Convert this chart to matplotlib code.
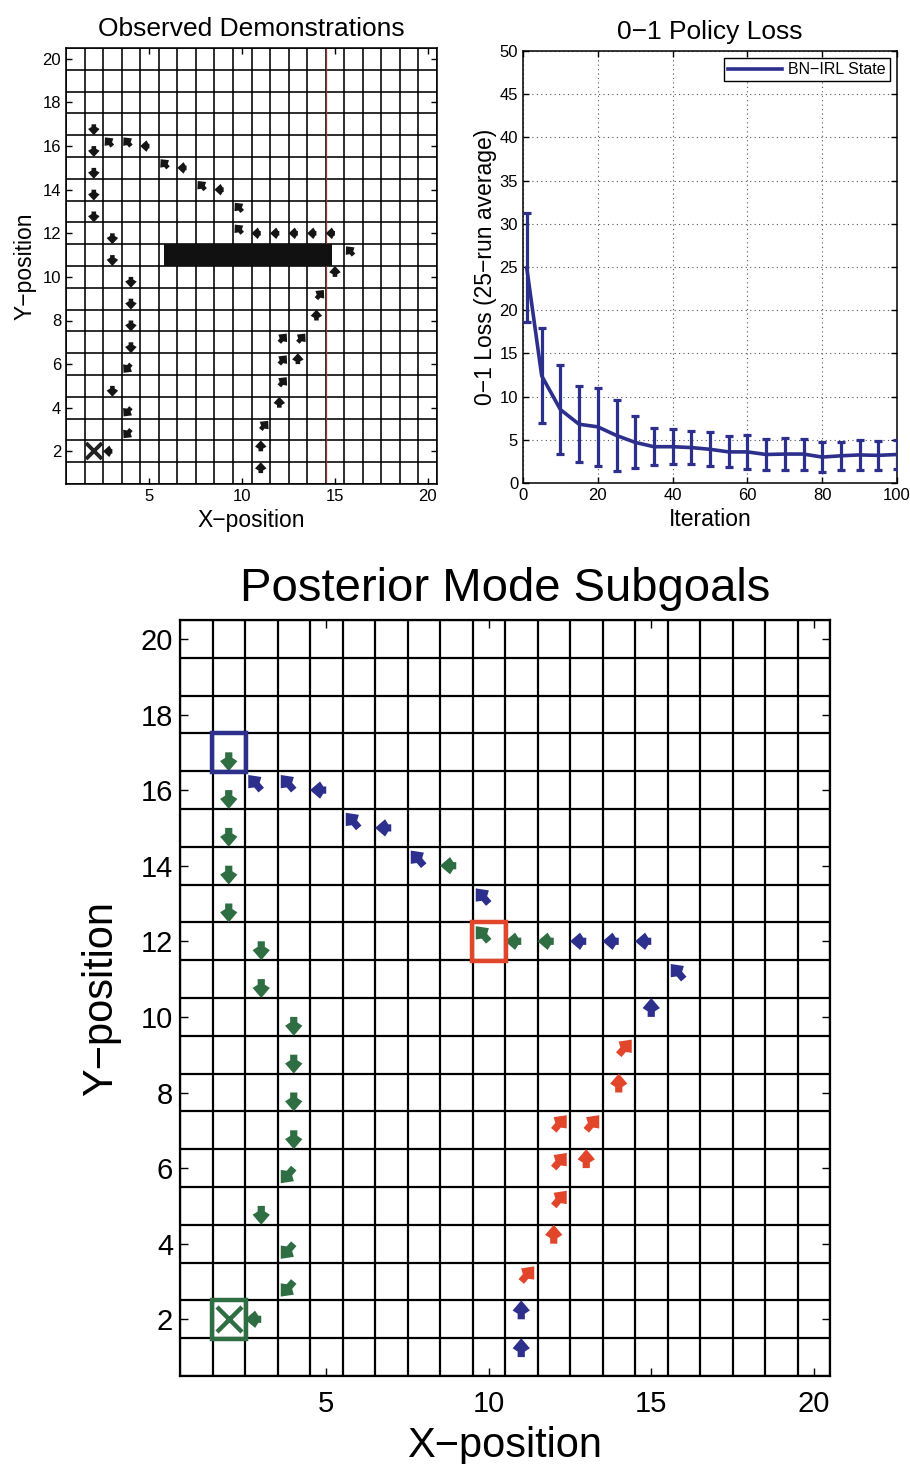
import numpy as np
import matplotlib
matplotlib.use("Agg")
import matplotlib.pyplot as plt
from matplotlib.patches import Rectangle
from matplotlib.lines import Line2D

plt.rcParams['font.family'] = ['Liberation Sans', 'DejaVu Sans']

# ---- demonstrated state-action pairs (grid cell, action, subgoal partition) ----
state_x = [2, 2, 2, 2, 2, 3, 4, 5, 6, 7, 8, 9, 10, 10, 11, 12, 13, 14, 15, 16, 15,
           14, 14, 12, 13, 12, 13, 12, 12, 11, 11, 11,
           3, 3, 4, 4, 4, 4, 4, 3, 4, 4, 3]
state_y = [17, 16, 15, 14, 13, 16, 16, 16, 15, 15, 14, 14, 13, 12, 12, 12, 12, 12, 12, 11, 10,
           9, 8, 7, 7, 6, 6, 5, 4, 3, 2, 1,
           12, 11, 10, 9, 8, 7, 6, 5, 4, 3, 2]
action = ['D', 'D', 'D', 'D', 'D', 'UL', 'UL', 'L', 'UL', 'L', 'UL', 'L', 'UL', 'UL', 'L', 'L',
          'L', 'L', 'L', 'UL', 'U',
          'UR', 'U', 'UR', 'UR', 'UR', 'U', 'UR', 'U', 'UR', 'U', 'U',
          'D', 'D', 'D', 'D', 'D', 'D', 'DL', 'D', 'DL', 'DL', 'L']
partition = ['g', 'g', 'g', 'g', 'g', 'b', 'b', 'b', 'b', 'b', 'b', 'g', 'b', 'g', 'g', 'g',
             'b', 'b', 'b', 'b', 'b',
             'r', 'r', 'r', 'r', 'r', 'r', 'r', 'r', 'r', 'b', 'b',
             'g', 'g', 'g', 'g', 'g', 'g', 'g', 'g', 'g', 'g', 'g']

start_x, start_y = [2], [2]

# posterior mode subgoals
subgoal_x = [2, 10, 2]
subgoal_y = [17, 12, 2]
subgoal_part = ['b', 'r', 'g']

# obstacle in the demonstration domain (x0, x1, y0, y1)
obstacle = (5.8, 14.85, 10.5, 11.5)

# ---- 0-1 policy loss ----
iters = [1, 5, 10, 15, 20, 25, 30, 35, 40, 45, 50, 55, 60, 65, 70, 75, 80, 85, 90, 95, 100]
loss_mean = [24.9, 12.4, 8.5, 6.8, 6.5, 5.5, 4.7, 4.2, 4.2, 4.1, 3.9, 3.6, 3.6, 3.3, 3.35,
             3.35, 3.0, 3.15, 3.25, 3.2, 3.3]
loss_err = [6.3, 5.5, 5.2, 4.4, 4.55, 4.1, 3.0, 2.15, 2.0, 1.9, 1.95, 1.8, 1.95, 1.8, 1.85,
            1.8, 1.7, 1.65, 1.75, 1.7, 1.7]
series_label = 'BN\u2212IRL State'

# ---- styling ----
part_color = {'b': '#2c2f8c', 'r': '#e1462b', 'g': '#2e6e42'}
line_blue = '#2c2f8c'
dirs = {'U': (0, 0.5), 'D': (0, -0.5), 'L': (-0.5, 0), 'R': (0.5, 0),
        'UL': (-0.4, 0.4), 'UR': (0.4, 0.4), 'DL': (-0.4, -0.4), 'DR': (0.4, -0.4)}

sx = np.array(state_x, float)
sy = np.array(state_y, float)
u = np.array([dirs[a][0] for a in action])
v = np.array([dirs[a][1] for a in action])

fig = plt.figure(figsize=(9.1, 14.64), dpi=100)
W, H = 910.0, 1464.0


def grid_axes(ax, lw, tick_fs, tick_len):
    cells = np.arange(0.5, 20.6, 1.0)
    ax.vlines(cells, 0.5, 20.5, color='black', lw=lw, zorder=1)
    ax.hlines(cells, 0.5, 20.5, color='black', lw=lw, zorder=1)
    ax.set_xlim(0.5, 20.5)
    ax.set_ylim(0.5, 20.5)
    ax.set_xticks([5, 10, 15, 20])
    ax.set_yticks(range(2, 21, 2))
    ax.tick_params(direction='in', top=True, right=True, length=tick_len, width=1,
                   labelsize=tick_fs)
    for s in ax.spines.values():
        s.set_linewidth(lw)


# ---------------- Observed Demonstrations ----------------
ax1 = fig.add_axes([66 / W, 1 - 484 / H, 371 / W, 436 / H])
grid_axes(ax1, 1.15, 12, 4)
ax1.vlines([14.5], 0.5, 20.5, color='#8a3a32', lw=0.9, zorder=1.5)
ax1.add_patch(Rectangle((obstacle[0], obstacle[2]), obstacle[1] - obstacle[0],
                        obstacle[3] - obstacle[2], facecolor='#111111', edgecolor='none',
                        zorder=2))
ax1.quiver(sx, sy, u, v, angles='xy', scale_units='xy', scale=1, pivot='tail',
           units='inches', width=0.046, headwidth=2.5, headlength=1.35, headaxislength=1.8,
           color='#151515', zorder=3)
ax1.plot(start_x, start_y, 'x', color='#222222', ms=12, mew=2.8, zorder=4)
ax1.set_title('Observed Demonstrations', fontsize=19, pad=9)
ax1.set_xlabel('X\u2212position', fontsize=16.5, labelpad=4)
ax1.set_ylabel('Y\u2212position', fontsize=16.5, labelpad=4)

# ---------------- 0-1 Policy Loss ----------------
ax2 = fig.add_axes([523 / W, 1 - 483 / H, 374 / W, 432 / H])
ax2.errorbar(iters, loss_mean, yerr=loss_err, color=line_blue, lw=2.6, elinewidth=2.3,
             capsize=3.2, capthick=2.3, zorder=3)
ax2.set_xlim(0, 100)
ax2.set_ylim(0, 50)
ax2.set_xticks(range(0, 101, 20))
ax2.set_yticks(range(0, 51, 5))
ax2.grid(True, linestyle=(0, (1, 3)), color='#555555', lw=0.8)
ax2.tick_params(direction='in', top=True, right=True, length=4, width=1, labelsize=12)
for s in ax2.spines.values():
    s.set_linewidth(1.1)
ax2.set_title('0\u22121 Policy Loss', fontsize=19, pad=9)
ax2.set_xlabel('Iteration', fontsize=16.5, labelpad=4)
ax2.set_ylabel('0\u22121 Loss (25\u2212run average)', fontsize=16.5, labelpad=2)
leg = ax2.legend(handles=[Line2D([], [], color=line_blue, lw=2.6)], labels=[series_label],
                 loc='upper right', fontsize=11.5, fancybox=False, framealpha=1,
                 edgecolor='black', handlelength=3.4, borderpad=0.25,
                 borderaxespad=0.45, handletextpad=0.4)
leg.get_frame().set_linewidth(1.0)

# ---------------- Posterior Mode Subgoals ----------------
ax3 = fig.add_axes([180 / W, 1 - 1376 / H, 650 / W, 756 / H])
grid_axes(ax3, 1.6, 21, 6)
ax3.quiver(sx, sy, u, v, angles='xy', scale_units='xy', scale=1, pivot='tail',
           units='inches', width=0.072, headwidth=2.4, headlength=1.4, headaxislength=1.85,
           color=[part_color[p] for p in partition], zorder=3)
for gx, gy, p in zip(subgoal_x, subgoal_y, subgoal_part):
    ax3.add_patch(Rectangle((gx - 0.52, gy - 0.52), 1.04, 1.04, fill=False,
                            edgecolor=part_color[p], lw=3.2, zorder=4))
ax3.plot(start_x, start_y, 'x', color=part_color['g'], ms=18, mew=3.2, zorder=5)
ax3.set_title('Posterior Mode Subgoals', fontsize=34, pad=14)
ax3.set_xlabel('X\u2212position', fontsize=30, labelpad=6)
ax3.set_ylabel('Y\u2212position', fontsize=30, labelpad=14)
ax3.tick_params(axis='x', pad=10)
ax3.tick_params(axis='y', pad=5)

fig.savefig('out.png', dpi=100)
